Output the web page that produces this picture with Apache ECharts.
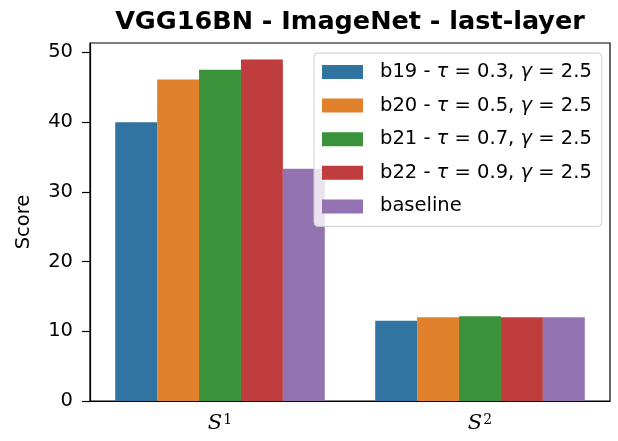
<!DOCTYPE html>
<html>
<head>
<meta charset="utf-8">
<script src="https://cdn.jsdelivr.net/npm/echarts@6/dist/echarts.min.js"></script>
<style>
  html, body { margin: 0; padding: 0; background: #fff; }
  #chart { width: 618px; height: 441px; }
</style>
</head>
<body>
<div id="chart"></div>
<script>
// Score per metric group for each configuration
const categories = ['S1', 'S2'];
const seriesNames = ['b19', 'b20', 'b21', 'b22', 'baseline'];
const tauValues = ['0.3', '0.5', '0.7', '0.9', null];
const gammaValues = ['2.5', '2.5', '2.5', '2.5', null];
const b19 = [40.0, 11.5];
const b20 = [46.1, 12.0];
const b21 = [47.5, 12.15];
const b22 = [49.0, 12.0];
const baseline = [33.3, 12.0];
const yTicks = [0, 10, 20, 30, 40, 50];

const values = [b19, b20, b21, b22, baseline];
const colors = ['#3274a1', '#e1812c', '#3a923a', '#c03d3e', '#9372b2'];
const FONT = 'DejaVu Sans';

const chart = echarts.init(document.getElementById('chart'), null, { renderer: 'canvas' });

const series = seriesNames.map((name, i) => ({
  name: name,
  type: 'bar',
  data: values[i],
  barGap: '0%',
  barCategoryGap: '19.4%',
  itemStyle: { color: colors[i] },
  emphasis: { disabled: true }
}));

// Legend entry text: "b19 - τ = 0.3, γ = 2.5"
function legendLabel(name) {
  const i = seriesNames.indexOf(name);
  if (tauValues[i] === null) return '{a|' + name + '}';
  return '{a|' + name + ' - }{i|τ}{a| = ' + tauValues[i] + ', }{i|γ}{a| = ' + gammaValues[i] + '}';
}

const option = {
  animation: false,
  backgroundColor: '#fff',
  title: {
    text: 'VGG16BN - ImageNet - last-layer',
    left: 345,
    textAlign: 'center',
    top: 4,
    textStyle: { fontFamily: FONT, fontWeight: 'bold', fontSize: 25.5, color: '#000' }
  },
  grid: {
    left: 90, right: 8, top: 43, bottom: 40,
    show: true, borderColor: '#000', borderWidth: 1.2, backgroundColor: 'transparent'
  },
  legend: {
    data: seriesNames,
    orient: 'vertical',
    left: 314, top: 53,
    padding: [9, 10, 10, 8],
    itemWidth: 41, itemHeight: 14,
    itemGap: 13.6,
    icon: 'rect',
    backgroundColor: 'rgba(255,255,255,0.8)',
    borderColor: '#cccccc',
    borderWidth: 1,
    borderRadius: 4,
    formatter: legendLabel,
    textStyle: {
      fontFamily: FONT, fontSize: 19.5, color: '#000',
      padding: [0, 0, 0, 12],
      rich: {
        a: { fontFamily: FONT, fontSize: 19.5, color: '#000' },
        i: { fontFamily: FONT, fontStyle: 'italic', fontSize: 19.5, color: '#000' }
      }
    }
  },
  xAxis: {
    type: 'category',
    data: categories,
    axisLine: { lineStyle: { color: '#000', width: 1.2 } },
    axisTick: { alignWithLabel: true, length: 8, lineStyle: { color: '#000', width: 1.2 } },
    axisLabel: {
      margin: 12,
      formatter: (v) => '{s|S}{n|' + v.slice(1) + '}',
      rich: {
        s: { fontFamily: 'DejaVu Serif', fontStyle: 'italic', fontSize: 21, color: '#000' },
        n: { fontFamily: 'DejaVu Serif', fontSize: 14, color: '#000', verticalAlign: 'top', padding: [0, 0, 8, 1] }
      }
    }
  },
  yAxis: {
    type: 'value',
    min: 0, max: 51.35, interval: 10,
    name: 'Score',
    nameLocation: 'middle',
    nameGap: 56,
    nameTextStyle: { fontFamily: FONT, fontSize: 19.5, color: '#000' },
    axisLine: { show: true, lineStyle: { color: '#000', width: 1.2 } },
    axisTick: { show: true, length: 8, customValues: yTicks, lineStyle: { color: '#000', width: 1.2 } },
    axisLabel: { customValues: yTicks, fontFamily: FONT, fontSize: 19.5, color: '#000', margin: 17 },
    splitLine: { show: false }
  },
  series: series
};

chart.setOption(option);
</script>
</body>
</html>
